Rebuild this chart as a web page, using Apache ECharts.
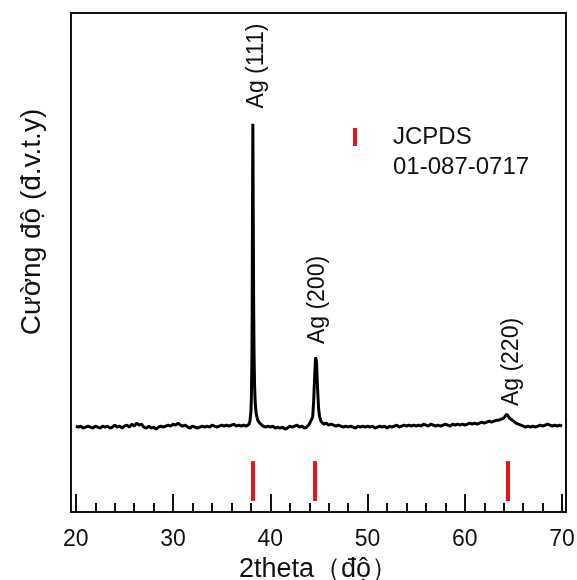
<!DOCTYPE html>
<html>
<head>
<meta charset="utf-8">
<script src="https://cdn.jsdelivr.net/npm/echarts@6/dist/echarts.min.js"></script>
<style>
  html, body { margin: 0; padding: 0; background: #fff; }
  #chart { width: 577px; height: 580px; }
</style>
</head>
<body>
<div id="chart"></div>
<script>
// XRD pattern (intensity in arbitrary units)
const twoTheta = [
  20.0, 20.25, 20.5, 20.75, 21.0, 21.25, 21.5, 21.75, 22.0, 22.25, 22.5, 22.75,
  23.0, 23.25, 23.5, 23.75, 24.0, 24.25, 24.5, 24.75, 25.0, 25.25, 25.5, 25.75,
  26.0, 26.25, 26.5, 26.75, 27.0, 27.25, 27.5, 27.75, 28.0, 28.25, 28.5, 28.75,
  29.0, 29.25, 29.5, 29.75, 30.0, 30.25, 30.5, 30.75, 31.0, 31.25, 31.5, 31.75,
  32.0, 32.25, 32.5, 32.75, 33.0, 33.25, 33.5, 33.75, 34.0, 34.25, 34.5, 34.75,
  35.0, 35.25, 35.5, 35.75, 36.0, 36.25, 36.5, 36.75, 37.0, 37.25, 37.5, 37.8,
  37.9, 38.0, 38.05, 38.1, 38.13, 38.16, 38.2, 38.24, 38.28, 38.32, 38.38, 38.45,
  38.55, 38.7, 38.9, 39.0, 39.25, 39.5, 39.75, 40.0, 40.25, 40.5, 40.75, 41.0,
  41.25, 41.5, 41.75, 42.0, 42.25, 42.5, 42.75, 43.0, 43.25, 43.5, 43.75, 44.0,
  44.35, 44.45, 44.55, 44.65, 44.7, 44.75, 44.85, 44.95, 45.05, 45.2, 45.35, 45.5,
  45.75, 46.0, 46.25, 46.5, 46.75, 47.0, 47.25, 47.5, 47.75, 48.0, 48.25, 48.5,
  48.75, 49.0, 49.25, 49.5, 49.75, 50.0, 50.25, 50.5, 50.75, 51.0, 51.25, 51.5,
  51.75, 52.0, 52.25, 52.5, 52.75, 53.0, 53.25, 53.5, 53.75, 54.0, 54.25, 54.5,
  54.75, 55.0, 55.25, 55.5, 55.75, 56.0, 56.25, 56.5, 56.75, 57.0, 57.25, 57.5,
  57.75, 58.0, 58.25, 58.5, 58.75, 59.0, 59.25, 59.5, 59.75, 60.0, 60.25, 60.5,
  60.75, 61.0, 61.25, 61.5, 61.75, 62.0, 62.25, 62.5, 62.75, 63.0, 63.25, 63.5,
  63.75, 64.0, 64.2, 64.3, 64.4, 64.6, 64.8, 65.0, 65.25, 65.5, 65.75, 66.0,
  66.25, 66.5, 66.75, 67.0, 67.25, 67.5, 67.75, 68.0, 68.25, 68.5, 68.75, 69.0,
  69.25, 69.5, 69.75, 70.0
]
const intensity = [
  86, 85, 86, 84, 85, 86, 85, 84, 86, 85, 84, 86,
  85, 86, 84, 85, 87, 85, 86, 84, 86, 87, 85, 88,
  86, 89, 87, 88, 85, 84, 86, 84, 85, 83, 85, 86,
  85, 86, 87, 86, 88, 87, 89, 87, 86, 87, 85, 84,
  86, 85, 84, 85, 86, 85, 86, 85, 87, 86, 85, 86,
  87, 86, 87, 86, 87, 88, 86, 87, 86, 87, 86, 88,
  91, 100, 115, 150, 200, 300, 389, 300, 210, 160, 125, 108,
  98, 92, 89, 88, 86, 85, 86, 85, 86, 84, 85, 84,
  85, 83, 84, 86, 85, 86, 87, 85, 86, 84, 85, 88,
  95, 110, 135, 155, 157, 150, 125, 105, 96, 91, 89, 88,
  89, 87, 88, 87, 86, 87, 86, 85, 86, 85, 86, 85,
  84, 86, 85, 86, 85, 86, 85, 86, 84, 85, 86, 85,
  86, 84, 86, 85, 86, 87, 85, 86, 87, 86, 87, 86,
  87, 86, 87, 86, 88, 87, 86, 88, 87, 86, 87, 86,
  87, 88, 87, 86, 88, 87, 88, 87, 88, 87, 88, 89,
  88, 89, 88, 89, 90, 89, 90, 91, 90, 91, 92, 92,
  93, 94, 96, 98, 96, 94, 92, 91, 89, 88, 87, 86,
  85, 86, 85, 86, 85, 86, 87, 86, 87, 88, 87, 86,
  87, 86, 87, 86
]

// JCPDS 01-087-0717 reference lines
const jcpdsPos = [38.15, 44.55, 64.45]
const jcpdsLow = 11
const jcpdsHigh = 51

const majorTicks = [20, 30, 40, 50, 60, 70]
const minorTicks = [22, 24, 26, 28, 32, 34, 36, 38, 42, 44, 46, 48, 52, 54, 56, 58, 62, 64, 66, 68]

const font = 'Liberation Sans, Arial, sans-serif'

const chart = echarts.init(document.getElementById('chart'))

chart.setOption({
  animation: false,
  grid: {
    left: 71,
    right: 11,
    top: 13,
    bottom: 68,
    outerBoundsMode: 'none',
    show: true,
    borderColor: '#111',
    borderWidth: 2
  },
  xAxis: [{
    type: 'value',
    min: 19.5,
    max: 70.4,
    position: 'bottom',
    axisLine: { show: true, lineStyle: { color: '#111', width: 2 } },
    axisTick: {
      show: true,
      customValues: majorTicks,
      inside: true,
      length: 18,
      lineStyle: { color: '#111', width: 2 }
    },
    axisLabel: {
      customValues: majorTicks,
      color: '#111',
      fontSize: 23,
      fontFamily: font,
      margin: 16
    },
    splitLine: { show: false },
    name: '2theta（độ）',
    nameLocation: 'middle',
    nameGap: 37,
    nameTextStyle: { color: '#111', fontSize: 27, fontFamily: font }
  }, {
    type: 'value',
    min: 19.5,
    max: 70.4,
    position: 'bottom',
    axisLine: { show: false },
    axisTick: {
      show: true,
      customValues: minorTicks,
      inside: true,
      length: 9,
      lineStyle: { color: '#111', width: 2 }
    },
    axisLabel: { show: false },
    splitLine: { show: false }
  }],
  yAxis: {
    type: 'value',
    min: 0,
    max: 500,
    axisLine: { show: false },
    axisTick: { show: false },
    axisLabel: { show: false },
    splitLine: { show: false }
  },
  series: [{
    type: 'line',
    data: twoTheta.map((t, i) => [t, intensity[i]]),
    showSymbol: false,
    symbol: 'none',
    lineStyle: { color: '#000', width: 3 },
    z: 3
  }, {
    type: 'line',
    data: [],
    markLine: {
      silent: true,
      symbol: 'none',
      label: { show: false },
      lineStyle: { color: '#e3141c', width: 4, type: 'solid' },
      data: jcpdsPos.map(p => [{ coord: [p, jcpdsLow] }, { coord: [p, jcpdsHigh] }])
    }
  }],
  graphic: [
    {
      type: 'text', x: 32, y: 222, rotation: Math.PI / 2,
      style: { text: 'Cường độ (đ.v.t.y)', fill: '#111', font: '28px ' + font, align: 'center', verticalAlign: 'middle' }
    },
    {
      type: 'text', x: 257, y: 66, rotation: Math.PI / 2,
      style: { text: 'Ag (111)', fill: '#111', font: '23px ' + font, align: 'center', verticalAlign: 'middle' }
    },
    {
      type: 'text', x: 318, y: 300, rotation: Math.PI / 2,
      style: { text: 'Ag (200)', fill: '#111', font: '23px ' + font, align: 'center', verticalAlign: 'middle' }
    },
    {
      type: 'text', x: 512, y: 362, rotation: Math.PI / 2,
      style: { text: 'Ag (220)', fill: '#111', font: '23px ' + font, align: 'center', verticalAlign: 'middle' }
    },
    {
      type: 'rect', shape: { x: 353, y: 128, width: 4, height: 18 },
      style: { fill: '#e3141c' }
    },
    {
      type: 'text', x: 393, y: 137,
      style: { text: 'JCPDS', fill: '#111', font: '24px ' + font, align: 'left', verticalAlign: 'middle' }
    },
    {
      type: 'text', x: 393, y: 167,
      style: { text: '01-087-0717', fill: '#111', font: '24px ' + font, align: 'left', verticalAlign: 'middle' }
    }
  ]
})
</script>
</body>
</html>
